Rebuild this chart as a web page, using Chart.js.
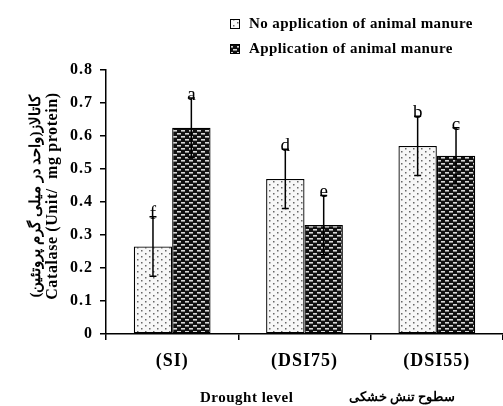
<!DOCTYPE html>
<html lang="en">
<head>
    <meta charset="UTF-8">
    <title>Catalase</title>
    <script src="https://cdn.jsdelivr.net/npm/chart.js@4.4.0/dist/chart.umd.min.js"></script>
    <style>
        body { margin: 0; background: white; }
        #wrap { width: 503px; height: 406px; position: relative; }
    </style>
</head>
<body>
    <div id="wrap"><canvas id="chart" width="503" height="406"></canvas></div>

    <script>
        // Data
        const categories = ['(SI)', '(DSI75)', '(DSI55)'];
        const seriesNames = ['No application of animal manure', 'Application of animal manure'];
        const noManure = [0.265, 0.47, 0.57];
        const withManure = [0.625, 0.33, 0.54];
        const noManureErr = [0.09, 0.09, 0.09];
        const withManureErr = [0.09, 0.09, 0.085];
        const noManureLetters = ['f', 'd', 'b'];
        const withManureLetters = ['a', 'e', 'c'];
        const yTicks = [0, 0.1, 0.2, 0.3, 0.4, 0.5, 0.6, 0.7, 0.8];

        const SERIF = '"Liberation Serif", "Times New Roman", serif';

        // fill patterns
        function dotPattern() {
            const c = document.createElement('canvas');
            c.width = 8; c.height = 6;
            const g = c.getContext('2d');
            g.fillStyle = '#f7f7f7';
            g.fillRect(0, 0, 8, 6);
            g.fillStyle = '#666';
            g.fillRect(1, 1, 1.5, 1.5);
            g.fillRect(5, 4, 1.5, 1.5);
            return g.createPattern(c, 'repeat');
        }
        function brickPattern() {
            const c = document.createElement('canvas');
            c.width = 8; c.height = 6;
            const g = c.getContext('2d');
            g.fillStyle = '#111';
            g.fillRect(0, 0, 8, 6);
            g.fillStyle = '#d8d8d8';
            g.fillRect(1, 1, 4, 1.6);
            g.fillRect(5, 4, 3, 1.6);
            g.fillRect(0, 4, 1, 1.6);
            return g.createPattern(c, 'repeat');
        }
        const lightFill = dotPattern();
        const darkFill = brickPattern();

        const extras = {
            id: 'extras',
            beforeDraw(chart) {
                // the original typesetting is loosely spaced
                chart.ctx.letterSpacing = '1px';
            },
            afterDatasetsDraw(chart) {
                const ctx = chart.ctx;
                const y = chart.scales.y;
                const errs = [noManureErr, withManureErr];
                const letters = [noManureLetters, withManureLetters];
                ctx.save();
                ctx.letterSpacing = '0px';
                ctx.strokeStyle = '#000';
                ctx.lineWidth = 1.5;
                chart.data.datasets.forEach((ds, di) => {
                    chart.getDatasetMeta(di).data.forEach((bar, i) => {
                        const v = ds.data[i], e = errs[di][i];
                        const top = y.getPixelForValue(v + e);
                        const bot = y.getPixelForValue(v - e);
                        ctx.beginPath();
                        ctx.moveTo(bar.x, top); ctx.lineTo(bar.x, bot);
                        ctx.moveTo(bar.x - 3.5, top); ctx.lineTo(bar.x + 3.5, top);
                        ctx.moveTo(bar.x - 3.5, bot); ctx.lineTo(bar.x + 3.5, bot);
                        ctx.stroke();
                        ctx.fillStyle = '#000';
                        ctx.font = '19px ' + SERIF;
                        ctx.textAlign = 'center';
                        ctx.textBaseline = 'middle';
                        ctx.fillText(letters[di][i], bar.x, top - 3);
                    });
                });
                ctx.restore();
            },
            afterDraw(chart) {
                const ctx = chart.ctx;
                ctx.save();
                ctx.fillStyle = '#000';
                // legend
                const fills = [lightFill, darkFill];
                ctx.letterSpacing = '0.4px';
                ctx.font = 'bold 15px ' + SERIF;
                ctx.textBaseline = 'middle';
                ctx.textAlign = 'left';
                seriesNames.forEach((name, i) => {
                    const cy = 24 + i * 25;
                    ctx.fillStyle = fills[i];
                    ctx.fillRect(230, cy - 5, 10, 10);
                    ctx.strokeStyle = '#000';
                    ctx.lineWidth = 1;
                    ctx.strokeRect(230.5, cy - 4.5, 9, 9);
                    ctx.fillStyle = '#000';
                    ctx.fillText(name, 249, cy);
                });
                // y title (two lines, rotated)
                ctx.save();
                ctx.translate(0, 196);
                ctx.rotate(-Math.PI / 2);
                ctx.textAlign = 'center';
                ctx.letterSpacing = '0px';
                ctx.font = 'bold 15px ' + SERIF;
                ctx.fillText('کاتالاز(واحد در میلی گرم پروتئین)', 0, 36);
                ctx.letterSpacing = '0.6px';
                ctx.font = 'bold 16px ' + SERIF;
                ctx.fillText('Catalase (Unit/  mg protein)', 0, 53);
                ctx.restore();
                // x title
                ctx.letterSpacing = '0.5px';
                ctx.font = 'bold 15px ' + SERIF;
                ctx.textAlign = 'left';
                ctx.fillText('Drought level', 200, 398);
                ctx.letterSpacing = '0px';
                ctx.font = 'bold 13px ' + SERIF;
                ctx.textAlign = 'right';
                ctx.fillText('سطوح تنش خشکی', 455, 398);
                ctx.restore();
            }
        };

        new Chart(document.getElementById('chart'), {
            type: 'bar',
            data: {
                labels: categories,
                datasets: [
                    { label: seriesNames[0], data: noManure, backgroundColor: lightFill,
                      borderColor: '#000', borderWidth: 1.3, borderSkipped: false },
                    { label: seriesNames[1], data: withManure, backgroundColor: darkFill,
                      borderColor: '#000', borderWidth: 1.3, borderSkipped: false }
                ]
            },
            options: {
                responsive: false,
                animation: false,
                devicePixelRatio: 1,
                layout: { padding: { top: 70, right: 0, bottom: 0, left: 0 } },
                categoryPercentage: 0.58,
                barPercentage: 1.0,
                plugins: { legend: { display: false }, tooltip: { enabled: false } },
                scales: {
                    x: {
                        afterFit: s => { s.height = 72; },
                        border: { color: '#000', width: 1.5 },
                        grid: { drawOnChartArea: false, color: '#000', tickLength: 6, lineWidth: 1.5 },
                        ticks: { color: '#000', padding: 11, font: { family: SERIF, size: 18, weight: 'bold' } }
                    },
                    y: {
                        min: 0, max: 0.8,
                        afterFit: s => { s.width = 106; },
                        afterBuildTicks: s => { s.ticks = yTicks.map(v => ({ value: v })); },
                        border: { color: '#000', width: 1.5 },
                        grid: { drawOnChartArea: false, color: '#000', tickLength: 6, lineWidth: 1.5 },
                        ticks: {
                            color: '#000', padding: 7,
                            font: { family: SERIF, size: 16, weight: 'bold' },
                            callback: v => v === 0 ? '0' : v.toFixed(1)
                        }
                    }
                }
            },
            plugins: [extras]
        });
    </script>
</body>
</html>
